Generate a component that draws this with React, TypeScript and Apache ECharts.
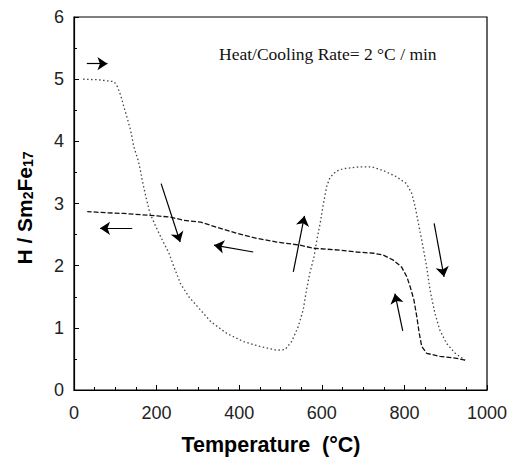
import React, { useEffect, useRef } from "react";
import * as echarts from "echarts";

const heatT = [22, 60, 97, 105, 113, 121, 129, 137, 145, 155, 160, 165, 174, 184, 198, 214, 230, 242, 258, 278, 303, 331, 370, 410, 450, 491, 511, 527, 543, 555, 563, 571, 581, 588, 596, 604, 612, 620, 635, 652, 692, 721, 749, 781, 805, 818, 826, 834, 842, 854, 862, 874, 886, 902, 923, 947];
const heatH = [5.0, 4.99, 4.96, 4.88, 4.74, 4.55, 4.37, 4.18, 3.91, 3.70, 3.56, 3.38, 3.11, 2.84, 2.63, 2.41, 2.20, 1.98, 1.71, 1.50, 1.31, 1.10, 0.91, 0.78, 0.70, 0.64, 0.65, 0.78, 1.02, 1.29, 1.61, 1.88, 2.14, 2.41, 2.68, 3.00, 3.28, 3.42, 3.52, 3.56, 3.59, 3.59, 3.53, 3.43, 3.32, 3.16, 2.95, 2.68, 2.41, 1.98, 1.61, 1.23, 0.96, 0.75, 0.59, 0.48];

const coolT = [947, 927, 886, 854, 842, 836, 830, 823, 814, 806, 793, 773, 749, 725, 684, 644, 580, 547, 491, 442, 394, 345, 307, 266, 234, 202, 161, 121, 81, 32];
const coolH = [0.48, 0.51, 0.54, 0.59, 0.70, 0.91, 1.18, 1.45, 1.66, 1.82, 1.98, 2.09, 2.17, 2.20, 2.22, 2.25, 2.28, 2.33, 2.38, 2.44, 2.52, 2.62, 2.70, 2.73, 2.78, 2.80, 2.82, 2.84, 2.85, 2.87];

const arrowFrom = [[31, 5.25], [141, 2.6], [211, 3.32], [434, 2.22], [531, 1.9], [872, 2.68], [796, 0.95]];
const arrowTo = [[81, 5.25], [63, 2.6], [257, 2.38], [339, 2.33], [558, 2.8], [896, 1.82], [777, 1.55]];

const xTicks = [0, 200, 400, 600, 800, 1000];
const yTicks = [0, 1, 2, 3, 4, 5, 6];

const annotation = "Heat/Cooling Rate= 2 °C / min";
const xTitle = "Temperature  (°C)";

export default function App() {
  const ref = useRef<HTMLDivElement>(null);
  useEffect(() => {
    const chart = echarts.init(ref.current!, null, { renderer: "svg" });
    const labelFont = { fontFamily: "Liberation Sans", fontSize: 18, color: "#222" };
    chart.setOption({
      animation: false,
      backgroundColor: "#fff",
      grid: { left: 74, right: 21, top: 17, bottom: 68, show: true, borderColor: "#000", borderWidth: 1.2, outerBoundsMode: "none" },
      xAxis: {
        type: "value",
        min: xTicks[0],
        max: xTicks[xTicks.length - 1],
        interval: 200,
        axisLine: { lineStyle: { color: "#000", width: 1.2 } },
        axisTick: { inside: true, length: 5, lineStyle: { color: "#000" } },
        minorTick: { show: true, splitNumber: 4, length: 3, lineStyle: { color: "#000" } },
        splitLine: { show: false },
        axisLabel: { ...labelFont, margin: 14, formatter: (v: number) => String(v) },
      },
      yAxis: {
        type: "value",
        min: yTicks[0],
        max: yTicks[yTicks.length - 1],
        interval: 1,
        axisLine: { show: true, lineStyle: { color: "#000", width: 1.2 } },
        axisTick: { show: true, inside: true, length: 5, lineStyle: { color: "#000" } },
        minorTick: { show: true, splitNumber: 2, length: 3, lineStyle: { color: "#000" } },
        splitLine: { show: false },
        axisLabel: { ...labelFont, margin: 10, formatter: (v: number) => String(v) },
      },
      series: [
        {
          type: "line",
          data: heatT.map((t, i) => [t, heatH[i]]),
          showSymbol: false,
          lineStyle: { color: "#444", width: 1.3, type: [1.5, 2.5] },
        },
        {
          type: "line",
          data: coolT.map((t, i) => [t, coolH[i]]),
          showSymbol: false,
          lineStyle: { color: "#111", width: 1.3, type: [5, 2] },
          markLine: {
            silent: true,
            symbol: ["none", "arrow"],
            symbolSize: [0, 10],
            label: { show: false },
            lineStyle: { color: "#000", width: 1.2, type: "solid" },
            data: arrowFrom.map((f, i) => [
              { coord: f, symbol: "none" },
              { coord: arrowTo[i], symbol: "arrow", symbolSize: 10 },
            ]),
          },
        },
      ],
      graphic: [
        {
          type: "text",
          left: 219,
          top: 45,
          style: { text: annotation, fontFamily: "Liberation Serif", fontSize: 17.5, fill: "#111" },
        },
        {
          type: "text",
          x: 271,
          y: 445,
          style: {
            text: xTitle,
            fontFamily: "Liberation Sans",
            fontWeight: "bold",
            fontSize: 21.5,
            fill: "#000",
            align: "center",
            verticalAlign: "middle",
          },
        },
        {
          type: "text",
          x: 23,
          y: 208,
          rotation: Math.PI / 2,
          style: {
            text: "{n|H / Sm}{s|2}{n|Fe}{s|17}",
            align: "center",
            verticalAlign: "middle",
            rich: {
              n: { fontFamily: "Liberation Sans", fontWeight: "bold", fontSize: 21, fill: "#000", verticalAlign: "bottom", lineHeight: 24 },
              s: { fontFamily: "Liberation Sans", fontWeight: "bold", fontSize: 14, fill: "#000", verticalAlign: "bottom", lineHeight: 20 },
            },
          },
        },
      ],
    });
    return () => chart.dispose();
  }, []);
  return <div ref={ref} style={{ width: 508, height: 458, position: "absolute", left: 0, top: 0 }} />;
}
